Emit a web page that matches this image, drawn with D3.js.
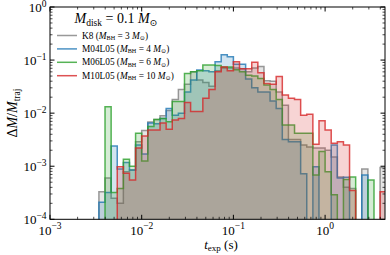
<!DOCTYPE html>
<html>
<head>
<meta charset="utf-8">
<script src="https://cdn.jsdelivr.net/npm/d3@7"></script>
<style>
  body { margin: 0; background: #fff; }
  svg text { font-family: "Liberation Serif", "DejaVu Serif", serif; fill: #000; }
</style>
</head>
<body>
<div id="chart"></div>
<script>
// histogram bins: 15 per decade starting at t = 1e-3 s, first listed bin is number 8
const binsPerDecade = 15;
const firstBin = 8;

// dM/M_traj per bin (0 = empty bin)
const k8 = [0.00033, 0.0006, 0.00025, 0.0002, 0.00079, 0.00085, 0.0029, 0.0047, 0.0068, 0.0076,
  0.0089, 0.0112, 0.018, 0.028, 0.035, 0.060, 0.042, 0.038, 0.032, 0.063,
  0.071, 0.071, 0.071, 0.069, 0.060, 0.071, 0.076, 0.041, 0.040, 0.025,
  0.0141, 0.0032, 0.0032, 0.0025, 0.0023, 0.0022, 0.0022, 0.0020, 0.0015, 0.00063,
  0.0004, 0.00038, 0, 0.00089, 0, 0, 0.00095];
const m04l05 = [0.00021, 0.00032, 0.0024, 0.00089, 0.00117, 0.00085, 0.0025, 0.0017, 0.0065, 0.0063,
  0.0079, 0.0123, 0.0091, 0.010, 0.025, 0.042, 0.065, 0.063, 0.060, 0.093,
  0.126, 0.115, 0.083, 0.083, 0.044, 0.030, 0.025, 0.025, 0.017, 0.0123,
  0.0032, 0.0029, 0.0029, 0.00072, 0, 0.00098, 0, 0, 0.0025, 0.0006,
  0.00062, 0, 0, 0.00068, 0, 0, 0];
const m06l05 = [0, 0.0132, 0.00032, 0.00038, 0.00135, 0.001, 0.0042, 0.00126, 0.0056, 0.0076,
  0.0079, 0.0069, 0.0166, 0.0166, 0.056, 0.060, 0.063, 0.081, 0.081, 0.079,
  0.074, 0.074, 0.066, 0.060, 0.052, 0.050, 0.045, 0.034, 0.028, 0.018,
  0.006, 0.006, 0.0042, 0.0042, 0.0042, 0.00068, 0.0019, 0.00079, 0.00029, 0,
  0.00056, 0.00063, 0, 0, 0.00055, 0, 0];
const m10l05 = [0, 0, 0, 0.00098, 0.00074, 0.00055, 0.0022, 0.0037, 0.0048, 0.0048,
  0.0065, 0.005, 0.0074, 0.0079, 0.0158, 0.0107, 0.0107, 0.019, 0.028, 0.060,
  0.074, 0.063, 0.093, 0.069, 0.069, 0.091, 0.058, 0.036, 0.035, 0.049,
  0.022, 0.019, 0.018, 0.0091, 0.0095, 0.0026, 0.0072, 0.0048, 0.0027, 0.0029,
  0.0025, 0.00035, 0, 0, 0, 0, 0.00033];

const runNames = ['K8', 'M04L05', 'M06L05', 'M10L05'];
const bhMasses = ['3', '4', '6', '10'];
const colors = ['#7f7f7f', '#1f77b4', '#2ca02c', '#d62728'];
const xMajor = [1e-3, 1e-2, 1e-1, 1];
const yMajor = [1e-4, 1e-3, 1e-2, 1e-1, 1];

const series = [k8, m04l05, m06l05, m10l05].map((v, i) => ({
  name: runNames[i], mbh: bhMasses[i], color: colors[i], values: v
}));

const W = 390, H = 255;
const m = {left: 50, right: 385, top: 7, bottom: 219.3};

const svg = d3.select('#chart').append('svg')
  .attr('width', W).attr('height', H);

const x = d3.scaleLog().domain([1e-3, 4.5]).range([m.left, m.right]);
const y = d3.scaleLog().domain([1e-4, 1]).range([m.bottom, m.top]);

const edge = i => Math.pow(10, -3 + i / binsPerDecade);

svg.append('clipPath').attr('id', 'plotclip')
  .append('rect')
  .attr('x', m.left).attr('y', m.top)
  .attr('width', m.right - m.left).attr('height', m.bottom - m.top);

function stepPoints(vals) {
  let y0 = y(1e-6);
  let pts = [[x(edge(firstBin)), y0]];
  vals.forEach((v, k) => {
    let i = firstBin + k;
    let yy = v > 0 ? y(v) : y0;
    pts.push([x(edge(i)), yy], [x(edge(i + 1)), yy]);
  });
  pts.push([x(edge(firstBin + vals.length)), y0]);
  return pts;
}

const plot = svg.append('g').attr('clip-path', 'url(#plotclip)');
series.forEach(s => {
  let pts = stepPoints(s.values);
  plot.append('path')
    .attr('d', d3.line()(pts) + 'Z')
    .attr('fill', s.color)
    .attr('fill-opacity', 0.2)
    .attr('stroke', 'none');
  plot.append('path')
    .attr('d', d3.line()(pts))
    .attr('fill', 'none')
    .attr('stroke', s.color)
    .attr('stroke-opacity', 0.8)
    .attr('stroke-width', 1.5)
    .attr('stroke-linejoin', 'miter');
});

// frame
svg.append('rect')
  .attr('x', m.left).attr('y', m.top)
  .attr('width', m.right - m.left).attr('height', m.bottom - m.top)
  .attr('fill', 'none').attr('stroke', '#000').attr('stroke-width', 1);

// ticks, pointing inwards on all four sides
function minors(lo, hi) {
  let out = [];
  for (let e = Math.floor(Math.log10(lo)); e <= Math.ceil(Math.log10(hi)); e++) {
    for (let k = 2; k <= 9; k++) {
      let v = k * Math.pow(10, e);
      if (v > lo && v < hi) out.push(v);
    }
  }
  return out;
}
const ticks = svg.append('g').attr('stroke', '#000');
function xTicks(vals, len, w) {
  vals.forEach(v => {
    let px = x(v);
    ticks.append('line').attr('x1', px).attr('x2', px)
      .attr('y1', m.bottom).attr('y2', m.bottom - len).attr('stroke-width', w);
    ticks.append('line').attr('x1', px).attr('x2', px)
      .attr('y1', m.top).attr('y2', m.top + len).attr('stroke-width', w);
  });
}
function yTicks(vals, len, w) {
  vals.forEach(v => {
    let py = y(v);
    ticks.append('line').attr('y1', py).attr('y2', py)
      .attr('x1', m.left).attr('x2', m.left + len).attr('stroke-width', w);
    ticks.append('line').attr('y1', py).attr('y2', py)
      .attr('x1', m.right).attr('x2', m.right - len).attr('stroke-width', w);
  });
}
xTicks(xMajor, 4.5, 1);
xTicks(minors(1e-3, 4.5), 2.5, 0.7);
yTicks(yMajor, 4.5, 1);
yTicks(minors(1e-4, 1), 2.5, 0.7);

function expLabel(sel, v) {
  let e = Math.round(Math.log10(v));
  sel.append('tspan').text('10');
  sel.append('tspan').attr('dy', -5.5).attr('font-size', 9.5)
    .text(e < 0 ? '\u2212' + (-e) : String(e));
}

xMajor.forEach(v => {
  let t = svg.append('text')
    .attr('x', x(v)).attr('y', 234.5)
    .attr('text-anchor', 'middle')
    .attr('font-size', 13);
  expLabel(t, v);
});
yMajor.forEach(v => {
  let t = svg.append('text')
    .attr('x', 46.5).attr('y', y(v) + 5)
    .attr('text-anchor', 'end')
    .attr('font-size', 13);
  expLabel(t, v);
});

// axis labels
let xl = svg.append('text')
  .attr('x', 221).attr('y', 248.5)
  .attr('text-anchor', 'middle')
  .attr('font-size', 13);
xl.append('tspan').attr('font-style', 'italic').text('t');
xl.append('tspan').attr('font-size', 9).attr('dy', 2.5).text('exp');
xl.append('tspan').attr('dy', -2.5).text(' (s)');

let yl = svg.append('text')
  .attr('transform', 'translate(17,' + ((m.top + m.bottom) / 2) + ') rotate(-90)')
  .attr('text-anchor', 'middle')
  .attr('font-size', 14);
yl.append('tspan').text('\u0394');
yl.append('tspan').attr('font-style', 'italic').text('M');
yl.append('tspan').text('/');
yl.append('tspan').attr('font-style', 'italic').text('M');
yl.append('tspan').attr('font-size', 9.5).attr('dy', 2.5).text('traj');

// legend
let title = svg.append('text')
  .attr('x', 116).attr('y', 23)
  .attr('text-anchor', 'middle')
  .attr('font-size', 14);
title.append('tspan').attr('font-style', 'italic').text('M');
title.append('tspan').attr('font-size', 9.5).attr('dy', 3).text('disk');
title.append('tspan').attr('dy', -3).text(' = 0.1 ');
title.append('tspan').attr('font-style', 'italic').text('M');
title.append('tspan').attr('font-size', 9.5).attr('dy', 3).text('\u2299');

series.forEach((s, i) => {
  let ly = 35.5 + i * 13.4;
  svg.append('line')
    .attr('x1', 57).attr('x2', 77)
    .attr('y1', ly).attr('y2', ly)
    .attr('stroke', s.color).attr('stroke-opacity', 0.8)
    .attr('stroke-width', 1.5);
  let t = svg.append('text')
    .attr('x', 82).attr('y', ly + 3)
    .attr('font-size', 9.3);
  t.append('tspan').text(s.name + ' (');
  t.append('tspan').attr('font-style', 'italic').text('M');
  t.append('tspan').attr('font-size', 6.2).attr('dy', 1.5).text('BH');
  t.append('tspan').attr('dy', -1.5).text(' = ' + s.mbh + ' ');
  t.append('tspan').attr('font-style', 'italic').text('M');
  t.append('tspan').attr('font-size', 6.2).attr('dy', 1.5).text('\u2299');
  t.append('tspan').attr('dy', -1.5).text(')');
});
</script>
</body>
</html>
